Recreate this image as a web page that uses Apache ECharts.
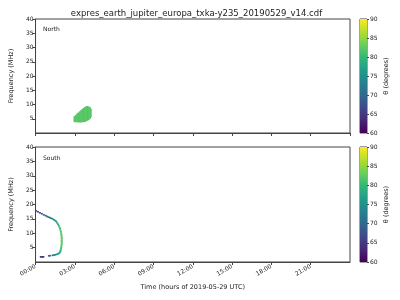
<!DOCTYPE html>
<html><head><meta charset="utf-8">
<script src="https://cdn.jsdelivr.net/npm/echarts@6/dist/echarts.min.js"></script>
<style>html,body{margin:0;padding:0;background:#fff}#c{width:400px;height:300px}</style>
</head><body><div id="c"></div>
<script>
// ---- data ----
const titleText = 'expres_earth_jupiter_europa_txka-y235_20190529_v14.cdf';
const xTickLabels = ['00:00','03:00','06:00','09:00','12:00','15:00','18:00','21:00'];
const panelNames = ['North','South'];
const cbarLabel = 'θ (degrees)';

// North emission: columns in time (hours), frequency range (MHz), theta (deg)
const northT0   = [2.90,3.00,3.10,3.20,3.30,3.40,3.50,3.60,3.70,3.80,3.90,4.00,4.10,4.20];
const northT1   = [3.00,3.10,3.20,3.30,3.40,3.50,3.60,3.70,3.80,3.90,4.00,4.10,4.20,4.25];
const northFLow = [3.8,3.8,3.8,3.7,3.7,3.7,3.8,3.8,3.9,4.1,4.3,4.6,5.0,5.5];
const northFHigh= [5.9,6.3,6.8,7.2,7.6,8.0,8.4,8.8,9.1,9.4,9.5,9.3,9.0,8.5];
const northTheta= [82,82,82,82,82,82,82,82,82,82,82,82,82,82];

// South emission: points (time hours, frequency MHz, theta deg)
const southT = [0.03,0.18,0.33,0.48,0.63,0.78,
  0.9,1.0,1.1,1.2,1.3,1.4,1.5,1.58,
  1.65,1.72,1.78,1.83,1.87,1.9,1.93,1.95,1.97,1.98,2.0,2.0,2.0,2.0,2.0,1.99,1.98,1.96,1.94,1.92,1.89,
  1.85,1.78,1.7,1.6,1.5,1.4,1.3,1.1,1.02,
  0.4,0.47,0.54,0.6];
const southF = [17.8,17.5,17.1,16.8,16.4,16.1,
  15.8,15.6,15.4,15.2,15.0,14.7,14.4,14.1,
  13.6,13.1,12.6,12.1,11.6,11.1,10.6,10.1,9.6,9.1,8.6,8.1,7.6,7.1,6.6,6.1,5.6,5.1,4.6,4.1,3.7,
  3.3,3.0,2.8,2.65,2.5,2.4,2.3,2.2,2.15,
  1.8,1.8,1.8,1.8];
const southTheta = [66,66,66,67,67,68,
  70,71,72,73,74,75,76,77,
  78,79,80,81,81,82,82,82,82,82,82,82,82,82,82,82,82,81,81,80,79,
  78,77,76,75,74,73,72,70,70,
  65,65,65,65];

const cbarMin = 60, cbarMax = 90, cbarStep = 5;
const viridis = ['#440154','#482878','#3e4989','#31688e','#26828e','#1f9e89','#35b779','#6ece58','#b5de2b','#fde725'];

// ---- chart ----
const FONT = 'DejaVu Sans';
const txt = '#222';
const lineC = '#444';
const chart = echarts.init(document.getElementById('c'), null, {renderer:'canvas'});

const northData = northT0.map((t,i)=>[t, northT1[i], northFLow[i], northFHigh[i], northTheta[i]]);
const southData = southT.map((t,i)=>[t, southF[i], southTheta[i]]);

const mainGrids = [
  {left:31, top:19, width:319, height:114, show:true, borderColor:lineC, borderWidth:1, backgroundColor:'#fff'},
  {left:31, top:147, width:319, height:115, show:true, borderColor:lineC, borderWidth:1, backgroundColor:'#fff'}
];
const cbGrids = [
  {left:360, top:19, width:7, height:114, show:true, borderColor:lineC, borderWidth:1},
  {left:360, top:147, width:7, height:115, show:true, borderColor:lineC, borderWidth:1}
];

function timeAxis(gi, showLabels){
  return {
    type:'value', gridIndex:gi, min:0, max:24, interval:3,
    axisLine:{show:true, onZero:false, lineStyle:{color:lineC, width:1}},
    axisTick:{show:true, length:3, lineStyle:{color:lineC}},
    splitLine:{show:false},
    axisLabel:{show:showLabels, rotate:30, fontSize:6, color:txt, fontFamily:FONT, margin:4, showMaxLabel:false,
      formatter:v=>xTickLabels[Math.round(v/3)] || ''},
    name: showLabels ? 'Time (hours of 2019-05-29 UTC)' : '',
    nameLocation:'middle', nameGap:22,
    nameTextStyle:{fontSize:6.5, color:txt, fontFamily:FONT}
  };
}
function freqAxis(gi){
  return {
    type:'value', gridIndex:gi, min:0, max:40, interval:5,
    axisLine:{show:true, lineStyle:{color:lineC, width:1}},
    axisTick:{show:true, length:3, lineStyle:{color:lineC}},
    splitLine:{show:false},
    axisLabel:{fontSize:6, color:txt, fontFamily:FONT, margin:2, showMinLabel:false},
    name:'Frequency (MHz)', nameLocation:'middle', nameGap:16, nameRotate:90,
    nameTextStyle:{fontSize:6.5, color:txt, fontFamily:FONT}
  };
}
function cbX(gi){
  return {type:'category', gridIndex:gi, data:['c'], show:false};
}
function cbY(gi){
  return {
    type:'value', gridIndex:gi, position:'right', min:cbarMin, max:cbarMax, interval:cbarStep,
    axisLine:{show:false},
    axisTick:{show:true, length:2, lineStyle:{color:lineC}},
    splitLine:{show:false},
    axisLabel:{fontSize:6, color:txt, fontFamily:FONT, margin:3},
    name:cbarLabel, nameLocation:'middle', nameGap:16, nameRotate:90,
    nameTextStyle:{fontSize:6.5, color:txt, fontFamily:FONT}
  };
}
const grad = () => new echarts.graphic.LinearGradient(0,0,0,1,
  viridis.slice().reverse().map((c,i,a)=>({offset:i/(a.length-1), color:c})));

const option = {
  animation:false,
  backgroundColor:'#fff',
  title:{text:titleText, left:191.5, textAlign:'center', top:4,
    textStyle:{fontSize:8.5, fontWeight:'normal', color:txt, fontFamily:FONT}},
  grid:[...mainGrids, ...cbGrids],
  xAxis:[timeAxis(0,false), timeAxis(1,true), cbX(2), cbX(3)],
  yAxis:[freqAxis(0), freqAxis(1), cbY(2), cbY(3)],
  visualMap:[
    {show:false, type:'continuous', seriesIndex:0, dimension:4, min:cbarMin, max:cbarMax, inRange:{color:viridis}},
    {show:false, type:'continuous', seriesIndex:1, dimension:2, min:cbarMin, max:cbarMax, inRange:{color:viridis}}
  ],
  graphic:[
    {type:'text', left:43, top:26, style:{text:panelNames[0], fontSize:6, fill:txt, fontFamily:FONT}},
    {type:'text', left:43, top:155, style:{text:panelNames[1], fontSize:6, fill:txt, fontFamily:FONT}}
  ],
  series:[
    {
      type:'custom', xAxisIndex:0, yAxisIndex:0, data:northData,
      encode:{x:[0,1], y:[2,3]},
      renderItem:(params, api)=>{
        const p0 = api.coord([api.value(0), api.value(3)]);
        const p1 = api.coord([api.value(1), api.value(2)]);
        return {type:'rect', shape:{x:p0[0], y:p0[1], width:p1[0]-p0[0]+0.5, height:p1[1]-p0[1]},
          style:{fill:api.visual('color')}};
      }
    },
    {
      type:'scatter', xAxisIndex:1, yAxisIndex:1, data:southData,
      symbol:'rect', symbolSize:[2,1.6], itemStyle:{opacity:1}
    },
    {type:'bar', xAxisIndex:2, yAxisIndex:2, stack:'a', data:[cbarMin], barWidth:'100%', itemStyle:{color:'transparent'}, silent:true},
    {type:'bar', xAxisIndex:2, yAxisIndex:2, stack:'a', data:[cbarMax-cbarMin], barWidth:'100%', itemStyle:{color:grad()}, silent:true},
    {type:'bar', xAxisIndex:3, yAxisIndex:3, stack:'b', data:[cbarMin], barWidth:'100%', itemStyle:{color:'transparent'}, silent:true},
    {type:'bar', xAxisIndex:3, yAxisIndex:3, stack:'b', data:[cbarMax-cbarMin], barWidth:'100%', itemStyle:{color:grad()}, silent:true}
  ]
};
chart.setOption(option);
</script></body></html>
